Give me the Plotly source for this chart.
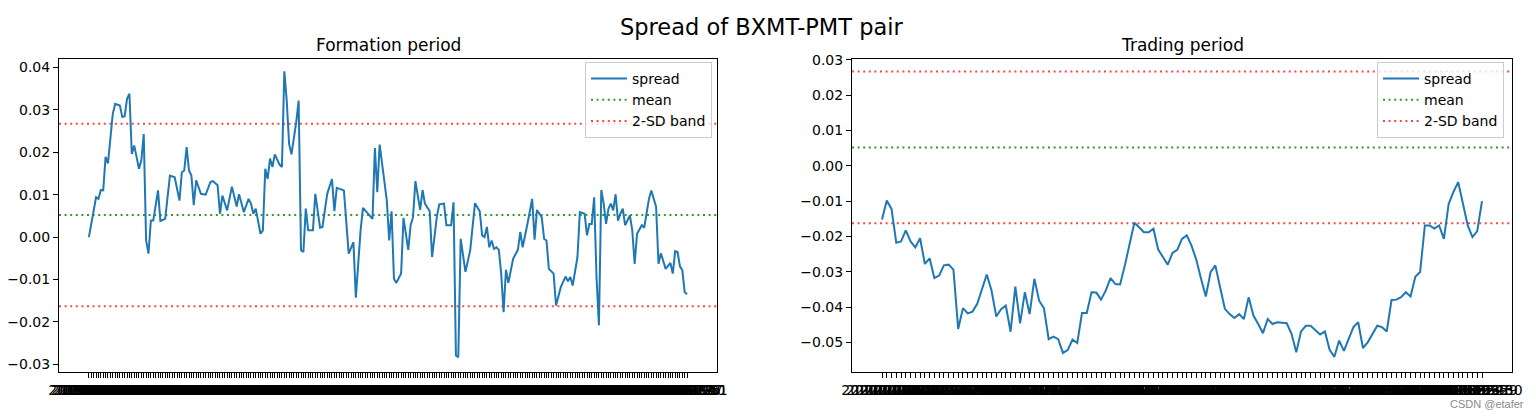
import pandas as pd
import plotly.graph_objects as go

# ---------------- data ----------------
fig_title = "Spread of BXMT-PMT pair"
panel_titles = ["Formation period", "Trading period"]
legend_names = ["spread", "mean", "2-SD band"]

form_dates = [d.strftime("%Y-%m-%d") for d in pd.bdate_range(end="2019-12-31", periods=252)]
trade_dates = [d.strftime("%Y-%m-%d") for d in pd.bdate_range(end="2020-06-30", periods=127)]

# trading-day index of each reading in the formation period, and the spread value
form_idx = [0, 3, 4, 5, 6, 7, 8, 10, 11, 13, 14, 15, 16, 17, 18, 19, 20, 21, 22, 23,
            24, 25, 26, 27, 29, 30, 32, 33, 34, 36, 38, 39, 40, 41, 42, 43, 44, 45, 47, 49,
            51, 52, 54, 55, 56, 58, 60, 62, 63, 65, 67, 68, 69, 70, 72, 73, 74, 75, 76, 77,
            78, 80, 81, 82, 83, 84, 85, 87, 88, 89, 90, 91, 92, 94, 95, 97, 98, 100, 102, 103,
            104, 107, 109, 111, 112, 114, 115, 119, 120, 121, 122, 124, 125, 126, 127, 128, 129, 131, 132, 134,
            135, 136, 137, 139, 140, 141, 143, 144, 146, 147, 149, 150, 152, 153, 154, 155, 156, 158, 159, 160,
            162, 164, 165, 166, 167, 168, 169, 170, 171, 172, 173, 174, 175, 176, 178, 180, 181, 182, 184, 186,
            187, 188, 190, 191, 192, 193, 195, 196, 198, 200, 201, 202, 203, 205, 206, 208, 209, 210, 211, 212,
            213, 214, 215, 216, 217, 218, 219, 220, 221, 222, 223, 224, 225, 227, 228, 229, 230, 232, 233, 235,
            236, 238, 239, 240, 242, 243, 244, 245, 246, 247, 248, 249, 250, 251]
form_spread = [0.0000, 0.0094, 0.0090, 0.0111, 0.0110, 0.0189, 0.0174, 0.0290, 0.0314, 0.0310,
               0.0283, 0.0285, 0.0326, 0.0338, 0.0196, 0.0216, 0.0189, 0.0161, 0.0181, 0.0243,
               -0.0008, -0.0039, 0.0039, 0.0039, 0.0110, 0.0038, 0.0043, 0.0102, 0.0145, 0.0141,
               0.0086, 0.0153, 0.0157, 0.0212, 0.0157, 0.0145, 0.0075, 0.0134, 0.0102, 0.0100,
               0.0130, 0.0132, 0.0122, 0.0055, 0.0098, 0.0063, 0.0119, 0.0072, 0.0101, 0.0059,
               0.0090, 0.0079, 0.0055, 0.0067, 0.0008, 0.0016, 0.0161, 0.0137, 0.0185, 0.0165,
               0.0195, 0.0171, 0.0165, 0.0391, 0.0322, 0.0220, 0.0195, 0.0271, 0.0322, -0.0031,
               -0.0035, 0.0067, 0.0016, 0.0016, 0.0102, 0.0022, 0.0024, 0.0102, 0.0137, 0.0061,
               0.0116, 0.0110, -0.0039, -0.0012, -0.0143, 0.0016, 0.0069, 0.0043, 0.0210, 0.0106,
               0.0218, 0.0130, 0.0086, -0.0008, 0.0061, -0.0098, -0.0108, -0.0086, 0.0045, -0.0030,
               0.0028, 0.0047, 0.0132, 0.0064, 0.0111, 0.0079, 0.0061, -0.0047, 0.0049, 0.0077,
               0.0079, 0.0028, 0.0028, 0.0082, -0.0279, -0.0283, -0.0004, -0.0082, -0.0055, -0.0031,
               0.0080, 0.0061, 0.0004, 0.0000, 0.0024, -0.0024, -0.0008, -0.0028, -0.0024, -0.0030,
               -0.0086, -0.0177, -0.0077, -0.0108, -0.0051, -0.0030, 0.0012, -0.0024, 0.0031, 0.0090,
               -0.0006, 0.0064, 0.0047, -0.0004, -0.0008, -0.0075, -0.0086, -0.0161, -0.0118, -0.0093,
               -0.0104, -0.0094, -0.0114, -0.0047, 0.0059, 0.0055, 0.0004, 0.0031, 0.0031, 0.0094,
               -0.0094, -0.0208, 0.0111, 0.0079, 0.0031, 0.0067, 0.0079, 0.0063, 0.0101, 0.0039,
               0.0055, 0.0067, 0.0028, 0.0051, 0.0016, -0.0063, 0.0008, 0.0028, 0.0022, 0.0090,
               0.0110, 0.0071, -0.0063, -0.0038, -0.0075, -0.0067, -0.0061, -0.0086, -0.0033, -0.0035,
               -0.0069, -0.0078, -0.0130, -0.0135, -0.0114]

trade_spread = [-0.0152, -0.0098, -0.0122, -0.0218, -0.0214, -0.0183, -0.0214, -0.0231, -0.0205, -0.0278,
                -0.0262, -0.0318, -0.0311, -0.0282, -0.0280, -0.0294, -0.0462, -0.0403, -0.0418, -0.0413,
                -0.0391, -0.0352, -0.0308, -0.0353, -0.0427, -0.0406, -0.0396, -0.0470, -0.0342, -0.0446,
                -0.0358, -0.0420, -0.0320, -0.0382, -0.0403, -0.0491, -0.0484, -0.0491, -0.0530, -0.0522,
                -0.0492, -0.0502, -0.0417, -0.0417, -0.0358, -0.0359, -0.0379, -0.0353, -0.0318, -0.0335,
                -0.0336, -0.0282, -0.0223, -0.0161, -0.0174, -0.0188, -0.0188, -0.0178, -0.0237, -0.0259,
                -0.0280, -0.0247, -0.0238, -0.0207, -0.0197, -0.0226, -0.0266, -0.0320, -0.0370, -0.0301,
                -0.0282, -0.0344, -0.0405, -0.0420, -0.0431, -0.0420, -0.0434, -0.0372, -0.0424, -0.0448,
                -0.0474, -0.0434, -0.0448, -0.0443, -0.0445, -0.0446, -0.0476, -0.0528, -0.0469, -0.0453,
                -0.0453, -0.0465, -0.0478, -0.0469, -0.0521, -0.0541, -0.0495, -0.0524, -0.0491, -0.0457,
                -0.0443, -0.0516, -0.0500, -0.0476, -0.0453, -0.0457, -0.0469, -0.0380, -0.0379, -0.0372,
                -0.0358, -0.0370, -0.0314, -0.0301, -0.0169, -0.0169, -0.0178, -0.0169, -0.0207, -0.0108,
                -0.0074, -0.0046, -0.0108, -0.0169, -0.0202, -0.0185, -0.0100]

spread_mean = 0.0052
band_upper = 0.0267
band_lower = -0.0163

form_yticks = [-0.03, -0.02, -0.01, 0.00, 0.01, 0.02, 0.03, 0.04]
trade_yticks = [-0.05, -0.04, -0.03, -0.02, -0.01, 0.00, 0.01, 0.02, 0.03]

# ---------------- style ----------------
W, H = 1536, 418
FONT = "DejaVu Sans"
C_SPREAD = "#1f77b4"
C_MEAN = "rgb(40,160,40)"
C_BAND = "rgb(255,70,70)"
DOT = "2px,3.6px"

fig = go.Figure()

panels = [
    dict(xa="x", ya="y", leg="legend", dates=form_dates, xs=form_idx, ys=form_spread),
    dict(xa="x2", ya="y2", leg="legend2", dates=trade_dates,
         xs=list(range(len(trade_spread))), ys=trade_spread),
]

for p in panels:
    fig.add_trace(go.Scatter(x=p["xs"], y=p["ys"], mode="lines", name=legend_names[0],
                             line=dict(color=C_SPREAD, width=2), xaxis=p["xa"], yaxis=p["ya"],
                             legend=p["leg"]))
    fig.add_trace(go.Scatter(x=[None], y=[None], mode="lines", name=legend_names[1],
                             line=dict(color=C_MEAN, width=2, dash=DOT), xaxis=p["xa"], yaxis=p["ya"],
                             legend=p["leg"]))
    fig.add_trace(go.Scatter(x=[None], y=[None], mode="lines", name=legend_names[2],
                             line=dict(color=C_BAND, width=2, dash=DOT), xaxis=p["xa"], yaxis=p["ya"],
                             legend=p["leg"]))
    for val, col in [(spread_mean, C_MEAN), (band_upper, C_BAND), (band_lower, C_BAND)]:
        fig.add_shape(type="line", xref=p["xa"] + " domain", yref=p["ya"], x0=0, x1=1, y0=val, y1=val,
                      line=dict(color=col, width=2, dash=DOT), layer="below")

def xaxis_cfg(domain, dates):
    n = len(dates)
    return dict(domain=domain, range=[-(n - 1) * 0.05, (n - 1) * 1.05], tickmode="array",
                tickvals=list(range(n)), ticktext=dates, tickangle=0, ticks="outside", ticklen=5,
                tickwidth=1, tickcolor="black", showline=True, mirror=True, linecolor="black",
                linewidth=1, showgrid=False, zeroline=False, automargin=False,
                tickfont=dict(family=FONT, size=14, color="black"))

def yaxis_cfg(domain, rng, ticks, anchor):
    return dict(domain=domain, range=rng, tickmode="array", tickvals=ticks, tickformat=".2f",
                ticks="outside", ticklen=5, tickwidth=1, tickcolor="black", showline=True,
                mirror=True, linecolor="black", linewidth=1, showgrid=False, zeroline=False,
                automargin=False, anchor=anchor, tickfont=dict(family=FONT, size=14, color="black"))

ydom = [(H - 372) / H, (H - 58.5) / H]
dom1 = [59 / W, 717 / W]
dom2 = [852 / W, 1512 / W]

legend_common = dict(font=dict(family=FONT, size=14, color="black"), bgcolor="rgba(255,255,255,0.8)",
                     bordercolor="#cccccc", borderwidth=1, xanchor="right", yanchor="top",
                     tracegroupgap=0, itemwidth=36)

fig.update_layout(
    width=W, height=H, margin=dict(l=0, r=0, t=0, b=0, autoexpand=False),
    paper_bgcolor="white", plot_bgcolor="white",
    font=dict(family=FONT, color="black"),
    xaxis=xaxis_cfg(dom1, form_dates),
    yaxis=yaxis_cfg(ydom, [-0.0318, 0.0421], form_yticks, "x"),
    xaxis2=xaxis_cfg(dom2, trade_dates),
    yaxis2=yaxis_cfg(ydom, [-0.0584, 0.0304], trade_yticks, "x2"),
    legend=dict(x=712 / W, y=1 - 62 / H, **legend_common),
    legend2=dict(x=1504 / W, y=1 - 62 / H, **legend_common),
    annotations=[
        dict(text=fig_title, x=761.5 / W, y=1 - 27 / H, xref="paper", yref="paper", showarrow=False,
             xanchor="center", yanchor="middle", font=dict(family=FONT, size=22.5, color="black")),
        dict(text=panel_titles[0], x=(dom1[0] + dom1[1]) / 2, y=1 - 45 / H, xref="paper", yref="paper",
             showarrow=False, xanchor="center", yanchor="middle", font=dict(family=FONT, size=17, color="black")),
        dict(text=panel_titles[1], x=(dom2[0] + dom2[1]) / 2, y=1 - 45 / H, xref="paper", yref="paper",
             showarrow=False, xanchor="center", yanchor="middle", font=dict(family=FONT, size=17, color="black")),
        dict(text="CSDN @etafer", x=1526 / W, y=1 - 404 / H, xref="paper", yref="paper", showarrow=False,
             xanchor="right", yanchor="middle", font=dict(family="Liberation Sans", size=11, color="#8a8a8a")),
    ],
)

fig.write_html("out.html")
